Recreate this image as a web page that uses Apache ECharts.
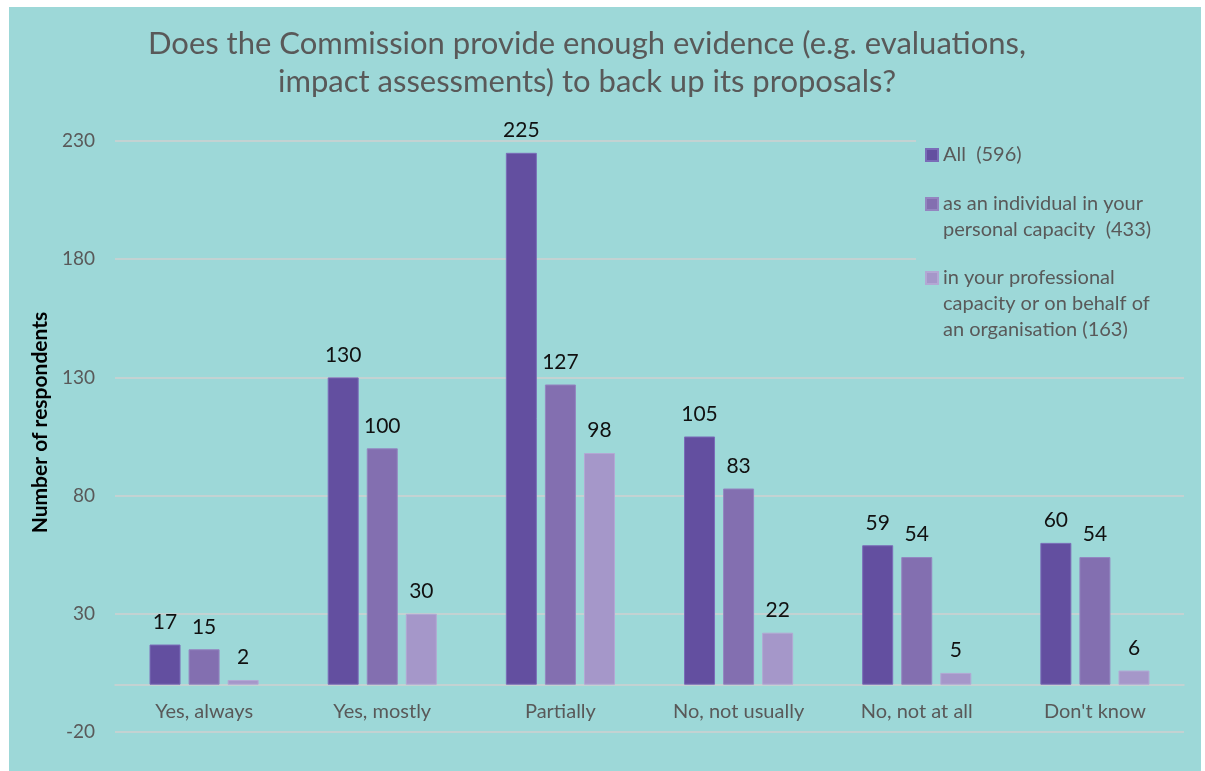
<!DOCTYPE html>
<html>
<head>
<meta charset="utf-8">
<script src="https://cdn.jsdelivr.net/npm/echarts@6/dist/echarts.min.js"></script>
<style>
  html, body { margin: 0; padding: 0; background: #ffffff; }
  #chart { position: absolute; left: 9px; top: 7px; width: 1192px; height: 764px; background: #9dd8d8; }
</style>
</head>
<body>
<div id="chart"></div>
<script>
const categories = ["Yes, always", "Yes, mostly", "Partially", "No, not usually", "No, not at all", "Don't know"];
const seriesNames = [
  "All  (596)",
  "as an individual in your personal capacity  (433)",
  "in your professional capacity or on behalf of an organisation (163)"
];
const allValues = [17, 130, 225, 105, 59, 60];
const individualValues = [15, 100, 127, 83, 54, 54];
const professionalValues = [2, 30, 98, 22, 5, 6];
// legend text split the way the original wraps it
const legendLines = [
  ["All  (596)"],
  ["as an individual in your", "personal capacity  (433)"],
  ["in your professional", "capacity or on behalf of", "an organisation (163)"]
];
const legendTops = [128, 177, 251];

const font = "Lato, 'Noto Sans', sans-serif";
const colors = ["#634fa0", "#836fb0", "#a597c9"];
const borders = ["#7a6cb8", "#9485c0", "#b3a8d4"];
const lineH = 26;

const chart = echarts.init(document.getElementById("chart"));

const makeSeries = (name, data, i) => ({
  name: name,
  type: "bar",
  data: data,
  barWidth: 31,
  barGap: "26%",
  itemStyle: { color: colors[i], borderColor: borders[i], borderWidth: 1 },
  label: {
    show: true,
    position: "top",
    distance: 12,
    color: "#111111",
    fontSize: 21,
    fontFamily: font
  }
});

// one legend per entry so the swatch sits on the first text line
const makeLegend = (i) => {
  const n = legendLines[i].length;
  return {
    orient: "vertical",
    left: 907,
    top: legendTops[i],
    padding: [6, 300, 6, 9],
    backgroundColor: "#9dd8d8",
    selectedMode: false,
    itemWidth: 12,
    itemHeight: lineH * n,
    icon: "path://M0,0M0," + lineH * n + "M0,7H12V19H0Z",
    formatter: () => legendLines[i].join("\n"),
    textStyle: { fontFamily: font, fontSize: 20, color: "#595959", lineHeight: lineH },
    data: [seriesNames[i]]
  };
};

chart.setOption({
  backgroundColor: "#9dd8d8",
  color: colors,
  title: {
    text: "Does the Commission provide enough evidence (e.g. evaluations,\nimpact assessments) to back up its proposals?",
    left: 573,
    top: 13,
    textAlign: "center",
    textStyle: {
      fontFamily: font,
      fontSize: 31,
      fontWeight: "normal",
      color: "#595959",
      lineHeight: 38
    }
  },
  legend: [makeLegend(0), makeLegend(1), makeLegend(2)],
  grid: { left: 106, right: 17, top: 134, bottom: 39 },
  xAxis: {
    type: "category",
    data: categories,
    axisLine: { lineStyle: { color: "#d0d0d0", width: 1.5 } },
    axisTick: { show: false },
    axisLabel: { color: "#595959", fontSize: 20, fontFamily: font, margin: -30 }
  },
  yAxis: {
    type: "value",
    min: -20,
    max: 230,
    interval: 50,
    name: "Number of respondents",
    nameLocation: "middle",
    nameGap: 64,
    nameTextStyle: {
      color: "#000000",
      fontSize: 21,
      fontWeight: "bold",
      fontFamily: font,
      padding: [0, 0, 0, 28]
    },
    axisLine: { show: false },
    axisTick: { show: false },
    axisLabel: { color: "#595959", fontSize: 19, fontFamily: font, margin: 20 },
    splitLine: { lineStyle: { color: "#d0d0d0", width: 1.5 } }
  },
  series: [
    makeSeries(seriesNames[0], allValues, 0),
    makeSeries(seriesNames[1], individualValues, 1),
    makeSeries(seriesNames[2], professionalValues, 2)
  ]
});
</script>
</body>
</html>
